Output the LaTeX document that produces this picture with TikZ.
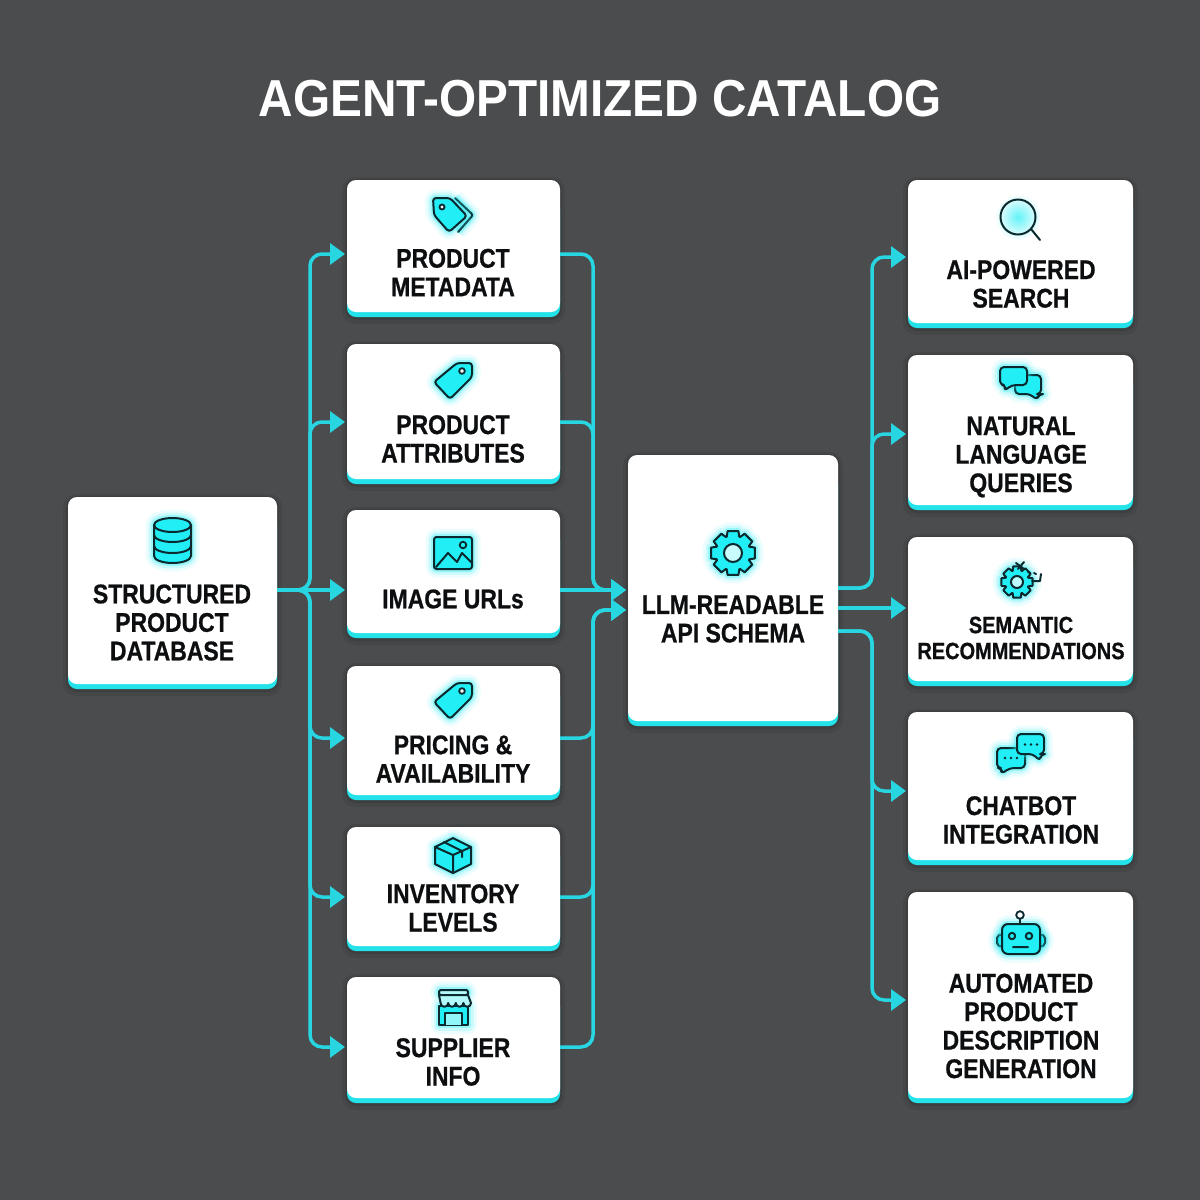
\documentclass[tikz,border=0pt]{standalone}
\usepackage{fontspec}
\usetikzlibrary{arrows.meta,calc}
\newfontfamily\lab[FakeStretch=0.85,BoldFeatures={FakeBold=0.7}]{Liberation Sans}
\newfontfamily\titlefont[FakeStretch=0.918]{Liberation Sans}
\definecolor{bgc}{HTML}{4A4C4E}
\definecolor{cyanl}{HTML}{28D6E2}
\definecolor{lip}{HTML}{24E2EA}
\definecolor{iconf}{HTML}{22EEF5}
\definecolor{ink}{HTML}{0A2A30}
\definecolor{txt}{HTML}{0C0E10}
\tikzset{
 boxbody/.style={fill=white,rounded corners=9pt,inner sep=0pt,outer sep=0pt},
 link/.style={draw=cyanl,line width=3.5pt,rounded corners=12pt},
 arrowed/.style={-{Triangle[length=15pt,width=21pt]},shorten >=2pt},
 boxlabel/.style={font=\lab\bfseries\fontsize{27}{28.5}\selectfont,text=txt,align=center,inner sep=0pt},
 glow/.style={preaction={draw=iconf,line width=17pt,draw opacity=.09,line join=round},
              preaction={draw=iconf,line width=11pt,draw opacity=.16,line join=round},
              preaction={draw=iconf,line width=6pt,draw opacity=.3,line join=round}},
 icon/.style={draw=ink,line width=2pt,line join=round,line cap=round,fill=iconf,glow},
 iconline/.style={draw=ink,line width=2pt,line join=round,line cap=round},
 iconhole/.style={draw=ink,line width=1.8pt,fill=white},
}
% name, x1, y1, x2, y2 (outer box including the cyan lip)
\newcommand{\boxnode}[5]{%
 \pgfmathsetmacro{\bcx}{(#2+#4)/2}%
 \pgfmathsetmacro{\bwd}{#4-#2}%
 \pgfmathsetmacro{\bcy}{(#3+#5-5)/2}%
 \pgfmathsetmacro{\bht}{#5-#3-5}%
 \fill[black,opacity=.07,rounded corners=13pt] (#2-5,#3-3) rectangle (#4+5,#5+7);
 \fill[black,opacity=.10,rounded corners=11pt] (#2-2,#3-1) rectangle (#4+2,#5+3);
 \fill[lip,rounded corners=9pt] (#2,#3+20) rectangle (#4,#5);
 \node[boxbody,minimum width=\bwd pt,minimum height=\bht pt] (#1) at (\bcx,\bcy) {};
}
\newcommand{\gearpath}[5]{% cx, cy, outer, inner, teeth
 ($(#1,#2)+(90-14:#3)$)
 \foreach \i [evaluate=\i as \a using (\i*360/#5+90)] in {0,...,\numexpr#5-1\relax}{
  -- ($(#1,#2)+(\a-14:#3)$)
  -- ($(#1,#2)+(\a+14:#3)$) -- ($(#1,#2)+(\a+21:#4)$) -- ($(#1,#2)+(\a+360/#5-21:#4)$)
 } -- cycle
}
\begin{document}
\begin{tikzpicture}[x=1pt,y=-1pt]
\useasboundingbox (0,0) rectangle (1200,1200);
\fill[bgc] (0,0) rectangle (1200,1200);

\node[font=\titlefont\bfseries\fontsize{52}{54}\selectfont,text=white,inner sep=0pt] (title) at (600,99) {AGENT-OPTIMIZED CATALOG};

\boxnode{db}{68}{497}{277}{689}
\boxnode{m1}{347}{180}{560}{317}
\boxnode{m2}{347}{344}{560}{484}
\boxnode{m3}{347}{510}{560}{638}
\boxnode{m4}{347}{666}{560}{800}
\boxnode{m5}{347}{827}{560}{951}
\boxnode{m6}{347}{977}{560}{1103}
\boxnode{api}{628}{455}{838}{726}
\boxnode{r1}{908}{180}{1133}{328}
\boxnode{r2}{908}{355}{1133}{510}
\boxnode{r3}{908}{537}{1133}{686}
\boxnode{r4}{908}{712}{1133}{865}
\boxnode{r5}{908}{892}{1133}{1103}

\node[boxlabel] (tdb) at (172,622.5) {STRUCTURED\\PRODUCT\\DATABASE};
\node[boxlabel] (t1) at (453,272.5) {PRODUCT\\METADATA};
\node[boxlabel] (t2) at (453,439) {PRODUCT\\ATTRIBUTES};
\node[boxlabel] (t3) at (453,599) {IMAGE URLs};
\node[boxlabel] (t4) at (453,759) {PRICING \&\\AVAILABILITY};
\node[boxlabel] (t5) at (453,908) {INVENTORY\\LEVELS};
\node[boxlabel] (t6) at (453,1062) {SUPPLIER\\INFO};
\node[boxlabel] (tapi) at (733,619) {LLM-READABLE\\API SCHEMA};
\node[boxlabel] (tr1) at (1021,284) {AI-POWERED\\SEARCH};
\node[boxlabel] (tr2) at (1021,457) {NATURAL\\LANGUAGE\\QUERIES};
\node[boxlabel,font=\lab\bfseries\fontsize{23.5}{26}\selectfont] (tr3) at (1021,638) {SEMANTIC\\RECOMMENDATIONS};
\node[boxlabel] (tr4) at (1021,820) {CHATBOT\\INTEGRATION};
\node[boxlabel] (tr5) at (1021,1026) {AUTOMATED\\PRODUCT\\DESCRIPTION\\GENERATION};

% ports on the node edges and the three vertical rails
\coordinate (railL) at (310,0);
\coordinate (railM) at (593,0);
\coordinate (railR) at (872,0);
\coordinate (dbout) at (db.east |- 0,590);
\coordinate (apiinA) at (api.west |- 0,590);
\coordinate (apiinB) at (api.west |- 0,610);
\coordinate (apioutA) at (api.east |- 0,588);
\coordinate (apioutB) at (api.east |- 0,608);
\coordinate (apioutC) at (api.east |- 0,631);
\foreach \n/\yi in {m1/254,m2/422,m3/590,m4/738,m5/897,m6/1047}{
  \coordinate (\n-in) at (\n.west |- 0,\yi);
  \coordinate (\n-out) at (\n.east |- 0,\yi);
}
\foreach \n/\yi in {r1/257,r2/434,r3/608,r4/791,r5/1000}{
  \coordinate (\n-in) at (\n.west |- 0,\yi);
}
% database to column
\foreach \n in {m1,m2,m4,m5,m6}{
  \draw[link,arrowed] (dbout) -- (railL |- dbout) -- (railL |- \n-in) -- (\n-in);
}
\draw[link,arrowed] (dbout) -- (m3-in);
% column to API
\foreach \n in {m1,m2}{
  \draw[link,arrowed] (\n-out) -- (railM |- \n-out) -- (railM |- apiinA) -- (apiinA);
}
\draw[link,arrowed] (m3-out) -- (apiinA);
\foreach \n in {m4,m5,m6}{
  \draw[link,arrowed] (\n-out) -- (railM |- \n-out) -- (railM |- apiinB) -- (apiinB);
}
% API to consumers
\foreach \n in {r1,r2}{
  \draw[link,arrowed] (apioutA) -- (railR |- apioutA) -- (railR |- \n-in) -- (\n-in);
}
\draw[link,arrowed] (apioutB) -- (r3-in);
\foreach \n in {r4,r5}{
  \draw[link,arrowed] (apioutC) -- (railR |- apioutC) -- (railR |- \n-in) -- (\n-in);
}

% --- icons ---
% database
\path[icon] (154,525) arc[x radius=18.5,y radius=7,start angle=180,end angle=360] -- (191,556) arc[x radius=18.5,y radius=7,start angle=0,end angle=180] -- cycle;
\draw[iconline] (154,525) arc[x radius=18.5,y radius=7,start angle=180,end angle=0];
\draw[iconline] (154,535) arc[x radius=18.5,y radius=7,start angle=180,end angle=0];
\draw[iconline] (154,546) arc[x radius=18.5,y radius=7,start angle=180,end angle=0];
% double tag
\draw[iconline,rounded corners=2pt,glow] (455,198) -- (473,215) -- (458,232);
\path[icon,rounded corners=3pt] (433,198) -- (450,198) -- (467,216) -- (449,232) -- (434,215) -- cycle;
\draw[iconhole] (442,207) circle (2.5);
% tag
\newcommand{\tagicon}[1]{%
 \path[icon,rounded corners=3pt] (472,363+#1) -- (457,363+#1) -- (434,382+#1) -- (450,399+#1) -- (472,377+#1) -- cycle;
 \draw[iconhole] (462,371+#1) circle (2.8);
}
\tagicon{0}
\tagicon{320}
% image
\path[icon,rounded corners=2.5pt] (434,537) rectangle (472,569);
\draw[iconline] (436,567) -- (448,553) -- (457,562) -- (462,553) -- (472,563);
\draw[iconhole,fill=iconf] (463,545) circle (3.3);
% box
\path[icon] (453,838) -- (471,847) -- (471,864) -- (453,873) -- (435,864) -- (435,847) -- cycle;
\draw[iconline] (435,847) -- (453,855) -- (471,847) (453,855) -- (453,873) (444,842) -- (462,851) -- (462,857);
% store
\path[icon] (439,1006) rectangle (468,1025);
\path[icon,fill=iconf!35!white,rounded corners=1.5pt] (439,990) rectangle (468,995);
\path[draw=ink,line width=2pt,line join=round,fill=iconf!35!white] (439,995) -- (468,995) -- (471,1003)
  arc[radius=3.8,start angle=0,end angle=180] arc[radius=3.8,start angle=0,end angle=180]
  arc[radius=3.8,start angle=0,end angle=180] arc[radius=3.8,start angle=0,end angle=180] -- cycle;
\draw[iconline,fill=iconf!50!white] (445,1025) -- (445,1013) -- (462,1013) -- (462,1025);
% api gear
\draw[icon] \gearpath{733}{553}{22.5}{17.5}{8};
\draw[iconhole,line width=2pt,fill=iconf!25!white] (733,553) circle (9);
% search
\shade[inner color=iconf!70!white,outer color=white] (1018,217) circle (23);
\draw[iconline] (1018,217) circle (17.5);
\draw[iconline] (1031,229) -- (1040,240);
% chat pair
\path[icon,rounded corners=4pt] (1015,375) -- (1041,375) -- (1041,394) -- (1039,394) -- (1037,400) -- (1030,394) -- (1015,394) -- cycle;
\path[icon,rounded corners=4pt] (1000,367) -- (1027,367) -- (1027,385) -- (1012,385) -- (1004,391) -- (1006,385) -- (1000,385) -- cycle;
% semantic gear
\draw[icon] \gearpath{1017}{582}{16}{12}{8};
\draw[iconhole,line width=2pt,fill=iconf!30!white] (1017,582) circle (6);
\draw[iconline] (1016,563) -- (1024,569) (1024,562) -- (1018,569) (1028,572) -- (1030,573) (1034,573) -- (1036,574) (1041,574) -- (1040,581) -- (1032,581);
% chatbot
\path[icon,rounded corners=4pt] (997,748) -- (1025,748) -- (1025,768) -- (1010,768) -- (1001,774) -- (1002,768) -- (997,768) -- cycle;
\path[icon,rounded corners=4pt] (1017,734) -- (1044,734) -- (1044,754) -- (1041,754) -- (1040,761) -- (1033,754) -- (1017,754) -- cycle;
\foreach \px/\py in {1005/758,1011/758,1017/758,1025/744.5,1031/744.5,1037/744.5}{
  \fill[ink] (\px,\py) circle (1.3);
}
% robot
\path[icon,rounded corners=2pt] (1002,934) -- (997,936) -- (997,945) -- (1002,947) -- cycle;
\path[icon,rounded corners=2pt] (1040,934) -- (1045,936) -- (1045,945) -- (1040,947) -- cycle;
\path[icon,rounded corners=6pt] (1002,924) rectangle (1040,954);
\draw[iconline] (1020,924) -- (1020,919);
\draw[iconhole] (1020,915) circle (3.8);
\draw[iconline] (1012,936) circle (3.2) (1029,936) circle (3.2) (1013,947) -- (1028,947);
\end{tikzpicture}
\end{document}
